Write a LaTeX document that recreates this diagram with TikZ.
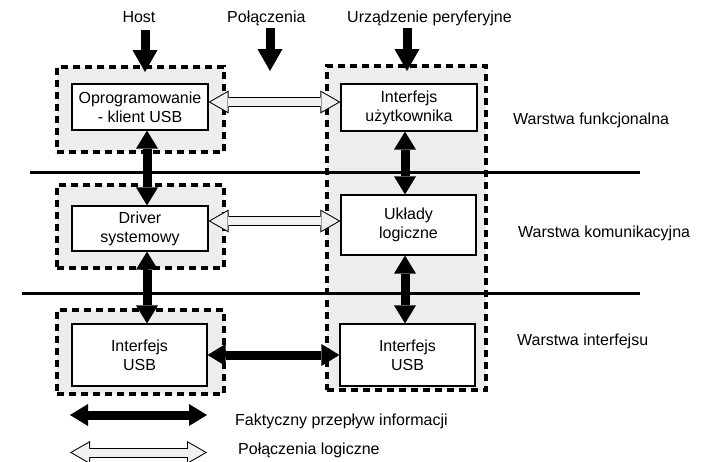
\documentclass[tikz,border=0pt]{standalone}
\usepackage{fontspec}
\setmainfont{Liberation Sans}
\usetikzlibrary{arrows.meta}
\tikzset{
  grp/.style={draw, fill=gray!14, line width=3.5pt, dash pattern=on 7pt off 5pt, inner sep=0pt},
  box/.style={draw, fill=white, line width=1.2pt, align=center, inner sep=0pt, font=\fontsize{16}{19}\selectfont},
  lbl/.style={font=\fontsize{16}{19}\selectfont, inner sep=0pt},
  layerline/.style={line width=3pt},
  solidarrow/.style={line width=9pt, {Triangle[width=22pt,length=18pt,line width=0pt]}-{Triangle[width=22pt,length=18pt,line width=0pt]}},
  downarrow/.style={line width=9pt, -{Triangle[width=25pt,length=22pt,line width=0pt]}},
  openout/.style={line width=10pt, {Triangle[width=23pt,length=20pt,line width=0pt]}-{Triangle[width=23pt,length=20pt,line width=0pt]}},
  openin/.style={line width=8pt, gray!12, shorten <=2pt, shorten >=2pt, {Triangle[width=19.5pt,length=17pt,line width=0pt]}-{Triangle[width=19.5pt,length=17pt,line width=0pt]}},
}
\begin{document}
\begin{tikzpicture}[x=1pt, y=-1pt]
\useasboundingbox[fill=white] (0,0) rectangle (710,461);

% group boxes
\node[grp, minimum width=167pt, minimum height=85pt] (hd1) at (140.5,109.5) {};
\node[grp, minimum width=167pt, minimum height=83pt] (hd2) at (140.5,226.5) {};
\node[grp, minimum width=167pt, minimum height=84pt] (hd3) at (140.5,352) {};
\node[grp, minimum width=159pt, minimum height=324pt] (rd) at (406.5,228) {};

% layer separators
\coordinate (l1a) at (30,172);  \coordinate (l1b) at (640,172);
\coordinate (l2a) at (22,293);  \coordinate (l2b) at (640,293);
\draw[layerline] (l1a) -- (l1b);
\draw[layerline] (l2a) -- (l2b);

% inner boxes
\node[box, minimum width=136pt, minimum height=46pt] (op) at (140,107) {Oprogramowanie\\- klient USB};
\node[box, minimum width=136pt, minimum height=47pt] (iu) at (409,107.5) {Interfejs\\użytkownika};
\node[box, minimum width=136pt, minimum height=45pt] (dr) at (140,228.5) {Driver\\systemowy};
\node[box, minimum width=135pt, minimum height=60pt] (ul) at (408.5,225) {Układy\\logiczne};
\node[box, minimum width=135pt, minimum height=62pt] (ua) at (139.5,355) {Interfejs\\USB};
\node[box, minimum width=135pt, minimum height=62pt] (ub) at (407.5,355) {Interfejs\\USB};

% top labels
\node[lbl, anchor=base] (host) at (139,22.7) {Host};
\node[lbl, anchor=base west] (pol) at (227,22.7) {Połączenia};
\node[lbl, anchor=base west] (urz) at (347,22.5) {Urządzenie peryferyjne};

% layer labels
\node[lbl, anchor=base west] (w1) at (513,124) {Warstwa funkcjonalna};
\node[lbl, anchor=base west] (w2) at (518,237) {Warstwa komunikacyjna};
\node[lbl, anchor=base west] (w3) at (517,345) {Warstwa interfejsu};

% top arrows
\coordinate (h0) at (145,30);  \coordinate (h1) at (145,72);
\coordinate (p0) at (270,28);  \coordinate (p1) at (270,71);
\coordinate (u0) at (407,28);  \coordinate (u1) at (407,71);
\draw[downarrow] (h0) -- (h1);
\draw[downarrow] (p0) -- (p1);
\draw[downarrow] (u0) -- (u1);

% vertical real-flow arrows
\coordinate (xl) at (147,0);
\coordinate (xr) at (405,0);
\draw[solidarrow] (op.south -| xl) -- (dr.north -| xl);
\draw[solidarrow] (dr.south -| xl) -- (ua.north -| xl);
\draw[solidarrow] (iu.south -| xr) -- (ul.north -| xr);
\draw[solidarrow] (ul.south -| xr) -- (ub.north -| xr);

% horizontal real flow
\draw[solidarrow] (ua.east) -- (ub.west);

% logical connections
\coordinate (y1) at (0,102);
\coordinate (y2) at (0,221);
\draw[openout] (op.east |- y1) -- (iu.west |- y1);
\draw[openin]  (op.east |- y1) -- (iu.west |- y1);
\draw[openout] (dr.east |- y2) -- (ul.west |- y2);
\draw[openin]  (dr.east |- y2) -- (ul.west |- y2);

% legend
\coordinate (la) at (70,415); \coordinate (lb) at (207,415);
\coordinate (lc) at (70,452.5); \coordinate (ld) at (207,452.5);
\draw[solidarrow] (la) -- (lb);
\draw[openout] (lc) -- (ld);
\draw[openin] (lc) -- (ld);
\node[lbl, anchor=base west] (leg1) at (235,425.5) {Faktyczny przepływ informacji};
\node[lbl, anchor=base west] (leg2) at (238,454) {Połączenia logiczne};
\end{tikzpicture}
\end{document}
